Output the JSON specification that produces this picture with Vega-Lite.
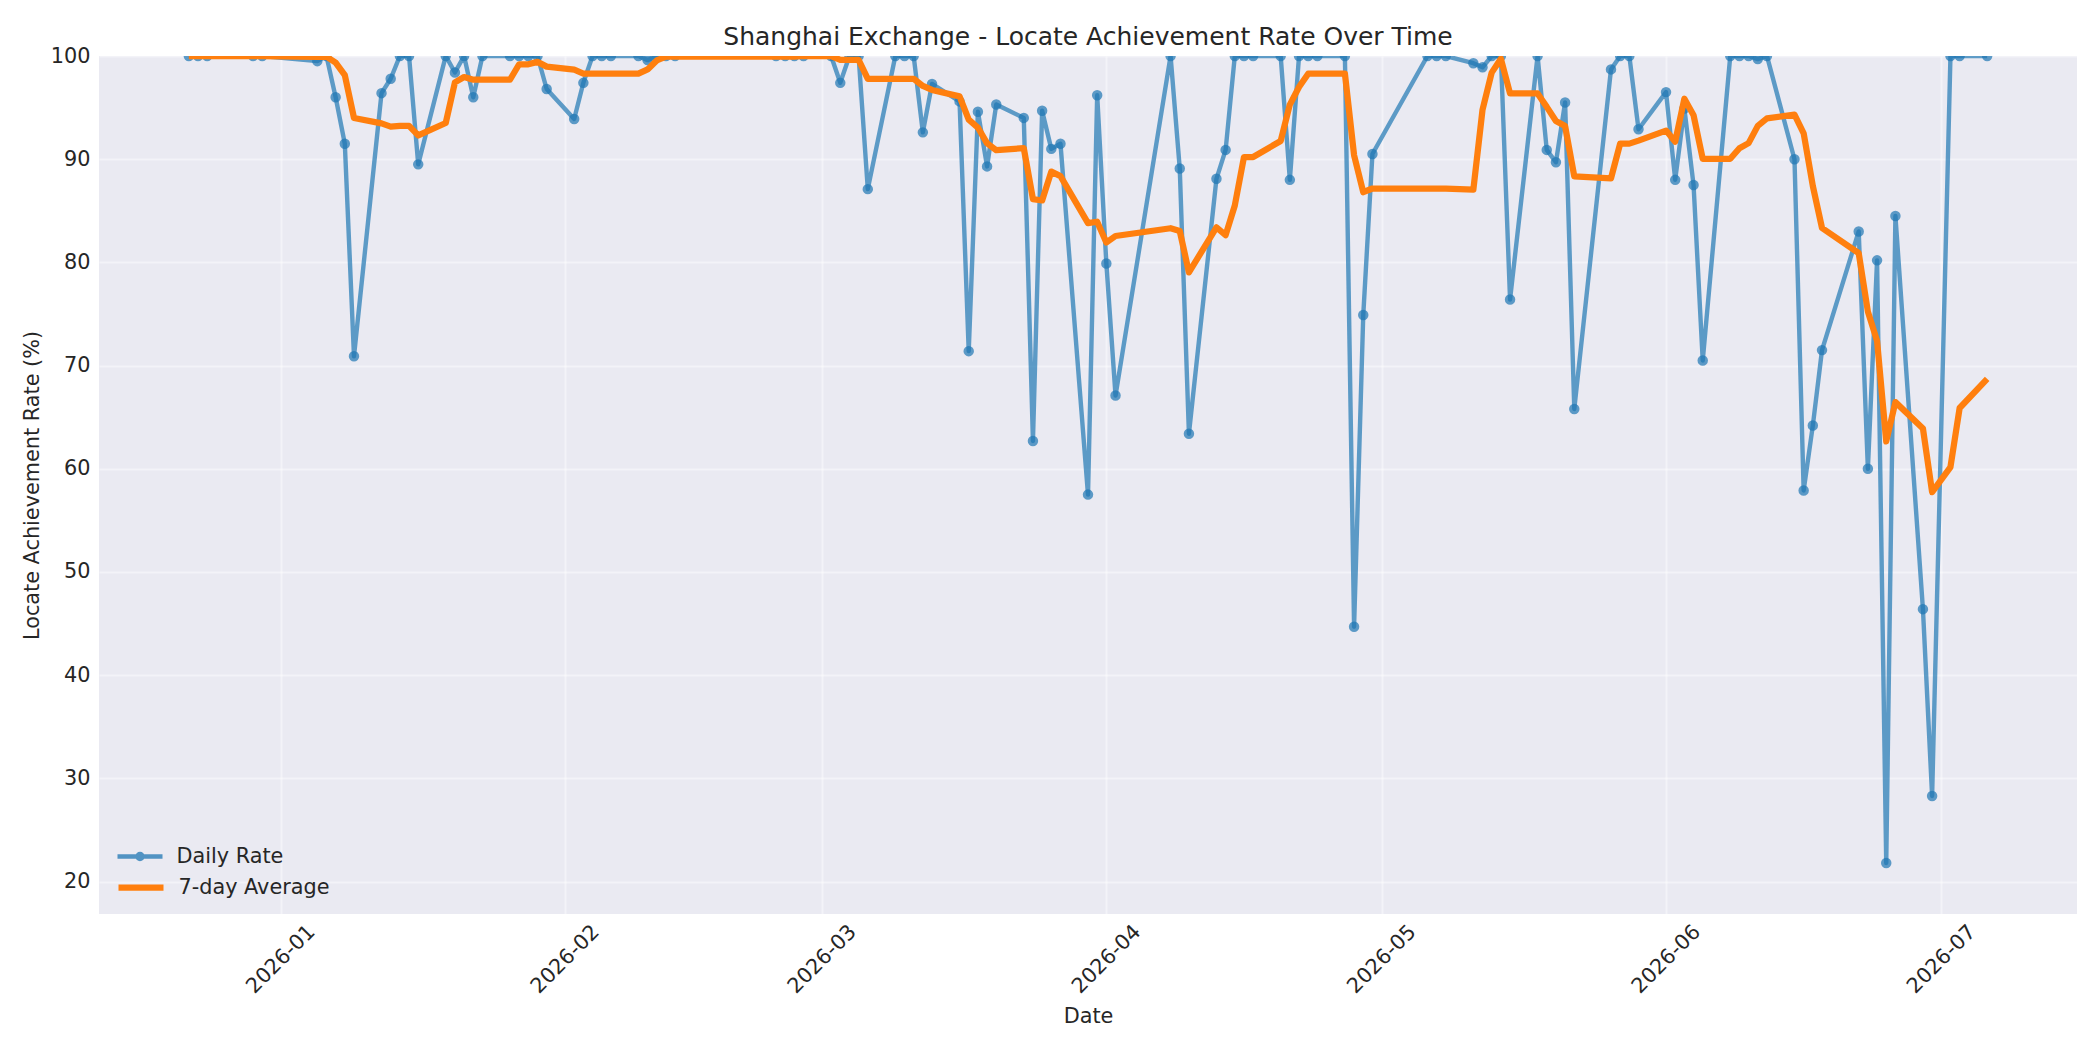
{
  "$schema": "https://vega.github.io/schema/vega-lite/v6.json",
  "width": 1978,
  "height": 858,
  "autosize": {"type": "none"},
  "padding": {"left": 99, "top": 56, "right": 23, "bottom": 136},
  "background": "white",
  "title": {
    "text": "Shanghai Exchange - Locate Achievement Rate Over Time",
    "fontSize": 25,
    "font": "DejaVu Sans",
    "fontWeight": "normal",
    "color": "#262626",
    "anchor": "middle",
    "frame": "group",
    "baseline": "alphabetic",
    "offset": 13,
    "dy": 38
  },
  "data": {
    "values": [
      {"date": "2025-12-22", "rate": 100, "avg": 100},
      {"date": "2025-12-23", "rate": 100, "avg": 100},
      {"date": "2025-12-24", "rate": 100, "avg": 100},
      {"date": "2025-12-29", "rate": 100, "avg": 100},
      {"date": "2025-12-30", "rate": 100, "avg": 100},
      {"date": "2026-01-05", "rate": 99.5, "avg": 99.92},
      {"date": "2026-01-06", "rate": 100, "avg": 99.93},
      {"date": "2026-01-07", "rate": 96.0, "avg": 99.36},
      {"date": "2026-01-08", "rate": 91.5, "avg": 98.14},
      {"date": "2026-01-09", "rate": 70.9, "avg": 93.99},
      {"date": "2026-01-12", "rate": 96.4, "avg": 93.47},
      {"date": "2026-01-13", "rate": 97.8, "avg": 93.16},
      {"date": "2026-01-14", "rate": 100, "avg": 93.23},
      {"date": "2026-01-15", "rate": 100, "avg": 93.23},
      {"date": "2026-01-16", "rate": 89.5, "avg": 92.30},
      {"date": "2026-01-19", "rate": 100, "avg": 93.51},
      {"date": "2026-01-20", "rate": 98.4, "avg": 97.44},
      {"date": "2026-01-21", "rate": 100, "avg": 97.96},
      {"date": "2026-01-22", "rate": 96.0, "avg": 97.70},
      {"date": "2026-01-23", "rate": 100, "avg": 97.70},
      {"date": "2026-01-26", "rate": 100, "avg": 97.70},
      {"date": "2026-01-27", "rate": 100, "avg": 99.20},
      {"date": "2026-01-28", "rate": 100, "avg": 99.20},
      {"date": "2026-01-29", "rate": 100, "avg": 99.43},
      {"date": "2026-01-30", "rate": 96.8, "avg": 98.97},
      {"date": "2026-02-02", "rate": 93.9, "avg": 98.67},
      {"date": "2026-02-03", "rate": 97.4, "avg": 98.30},
      {"date": "2026-02-04", "rate": 100, "avg": 98.30},
      {"date": "2026-02-05", "rate": 100, "avg": 98.30},
      {"date": "2026-02-06", "rate": 100, "avg": 98.30},
      {"date": "2026-02-09", "rate": 100, "avg": 98.30},
      {"date": "2026-02-10", "rate": 99.6, "avg": 98.70},
      {"date": "2026-02-11", "rate": 100, "avg": 99.57},
      {"date": "2026-02-12", "rate": 100, "avg": 99.94},
      {"date": "2026-02-13", "rate": 100, "avg": 99.94},
      {"date": "2026-02-24", "rate": 100, "avg": 99.94},
      {"date": "2026-02-25", "rate": 100, "avg": 99.94},
      {"date": "2026-02-26", "rate": 100, "avg": 99.94},
      {"date": "2026-02-27", "rate": 100, "avg": 100},
      {"date": "2026-03-02", "rate": 100, "avg": 100},
      {"date": "2026-03-03", "rate": 97.4, "avg": 99.63},
      {"date": "2026-03-04", "rate": 100, "avg": 99.63},
      {"date": "2026-03-05", "rate": 100, "avg": 99.63},
      {"date": "2026-03-06", "rate": 87.1, "avg": 97.79},
      {"date": "2026-03-09", "rate": 100, "avg": 97.79},
      {"date": "2026-03-10", "rate": 100, "avg": 97.79},
      {"date": "2026-03-11", "rate": 100, "avg": 97.79},
      {"date": "2026-03-12", "rate": 92.6, "avg": 97.10},
      {"date": "2026-03-13", "rate": 97.3, "avg": 96.71},
      {"date": "2026-03-16", "rate": 95.6, "avg": 96.09},
      {"date": "2026-03-17", "rate": 71.4, "avg": 93.84},
      {"date": "2026-03-18", "rate": 94.6, "avg": 93.07},
      {"date": "2026-03-19", "rate": 89.3, "avg": 91.54},
      {"date": "2026-03-20", "rate": 95.3, "avg": 90.87},
      {"date": "2026-03-23", "rate": 94.0, "avg": 91.07},
      {"date": "2026-03-24", "rate": 62.7, "avg": 86.13},
      {"date": "2026-03-25", "rate": 94.7, "avg": 86.00},
      {"date": "2026-03-26", "rate": 91.0, "avg": 88.80},
      {"date": "2026-03-27", "rate": 91.5, "avg": 88.36},
      {"date": "2026-03-30", "rate": 57.5, "avg": 83.81},
      {"date": "2026-03-31", "rate": 96.2, "avg": 83.94},
      {"date": "2026-04-01", "rate": 79.9, "avg": 81.93},
      {"date": "2026-04-02", "rate": 67.1, "avg": 82.56},
      {"date": "2026-04-08", "rate": 100, "avg": 83.31},
      {"date": "2026-04-09", "rate": 89.1, "avg": 83.04},
      {"date": "2026-04-10", "rate": 63.4, "avg": 79.03},
      {"date": "2026-04-13", "rate": 88.1, "avg": 83.40},
      {"date": "2026-04-14", "rate": 90.9, "avg": 82.64},
      {"date": "2026-04-15", "rate": 100, "avg": 85.51},
      {"date": "2026-04-16", "rate": 100, "avg": 90.21},
      {"date": "2026-04-17", "rate": 100, "avg": 90.21},
      {"date": "2026-04-20", "rate": 100, "avg": 91.77},
      {"date": "2026-04-21", "rate": 88.0, "avg": 95.29},
      {"date": "2026-04-22", "rate": 100, "avg": 96.99},
      {"date": "2026-04-23", "rate": 100, "avg": 98.29},
      {"date": "2026-04-24", "rate": 100, "avg": 98.29},
      {"date": "2026-04-27", "rate": 100, "avg": 98.29},
      {"date": "2026-04-28", "rate": 44.7, "avg": 90.39},
      {"date": "2026-04-29", "rate": 74.9, "avg": 86.80},
      {"date": "2026-04-30", "rate": 90.5, "avg": 87.16},
      {"date": "2026-05-06", "rate": 100, "avg": 87.16},
      {"date": "2026-05-07", "rate": 100, "avg": 87.16},
      {"date": "2026-05-08", "rate": 100, "avg": 87.16},
      {"date": "2026-05-11", "rate": 99.3, "avg": 87.06},
      {"date": "2026-05-12", "rate": 98.9, "avg": 94.80},
      {"date": "2026-05-13", "rate": 100, "avg": 98.39},
      {"date": "2026-05-14", "rate": 100, "avg": 99.74},
      {"date": "2026-05-15", "rate": 76.4, "avg": 96.37},
      {"date": "2026-05-18", "rate": 100, "avg": 96.37},
      {"date": "2026-05-19", "rate": 90.9, "avg": 95.07},
      {"date": "2026-05-20", "rate": 89.7, "avg": 93.70},
      {"date": "2026-05-21", "rate": 95.5, "avg": 93.21},
      {"date": "2026-05-22", "rate": 65.8, "avg": 88.33},
      {"date": "2026-05-26", "rate": 98.7, "avg": 88.14},
      {"date": "2026-05-27", "rate": 100, "avg": 91.51},
      {"date": "2026-05-28", "rate": 100, "avg": 91.51},
      {"date": "2026-05-29", "rate": 92.9, "avg": 91.80},
      {"date": "2026-06-01", "rate": 96.5, "avg": 92.77},
      {"date": "2026-06-02", "rate": 88.0, "avg": 91.70},
      {"date": "2026-06-03", "rate": 94.9, "avg": 95.86},
      {"date": "2026-06-04", "rate": 87.5, "avg": 94.26},
      {"date": "2026-06-05", "rate": 70.5, "avg": 90.04},
      {"date": "2026-06-08", "rate": 100, "avg": 90.04},
      {"date": "2026-06-09", "rate": 100, "avg": 91.06},
      {"date": "2026-06-10", "rate": 100, "avg": 91.56},
      {"date": "2026-06-11", "rate": 99.7, "avg": 93.23},
      {"date": "2026-06-12", "rate": 100, "avg": 93.96},
      {"date": "2026-06-15", "rate": 90.0, "avg": 94.31},
      {"date": "2026-06-16", "rate": 57.9, "avg": 92.51},
      {"date": "2026-06-17", "rate": 64.2, "avg": 87.40},
      {"date": "2026-06-18", "rate": 71.5, "avg": 83.33},
      {"date": "2026-06-22", "rate": 83.0, "avg": 80.90},
      {"date": "2026-06-23", "rate": 60.0, "avg": 75.23},
      {"date": "2026-06-24", "rate": 80.2, "avg": 72.40},
      {"date": "2026-06-25", "rate": 21.8, "avg": 62.66},
      {"date": "2026-06-26", "rate": 84.5, "avg": 66.46},
      {"date": "2026-06-29", "rate": 46.4, "avg": 63.91},
      {"date": "2026-06-30", "rate": 28.3, "avg": 57.74},
      {"date": "2026-07-02", "rate": 100, "avg": 60.17},
      {"date": "2026-07-03", "rate": 100, "avg": 65.89},
      {"date": "2026-07-06", "rate": 100, "avg": 68.71}
    ]
  },
  "encoding": {
    "x": {
      "field": "date",
      "type": "temporal",
      "title": "Date",
      "scale": {
        "type": "utc",
        "domain": [
          {"year": 2025, "month": 12, "date": 12, "hours": 5, "utc": true},
          {"year": 2026, "month": 7, "date": 15, "hours": 19, "utc": true}
        ]
      },
      "axis": {
        "values": [
          {"year": 2026, "month": 1, "date": 1, "utc": true},
          {"year": 2026, "month": 2, "date": 1, "utc": true},
          {"year": 2026, "month": 3, "date": 1, "utc": true},
          {"year": 2026, "month": 4, "date": 1, "utc": true},
          {"year": 2026, "month": 5, "date": 1, "utc": true},
          {"year": 2026, "month": 6, "date": 1, "utc": true},
          {"year": 2026, "month": 7, "date": 1, "utc": true}
        ],
        "labelExpr": "utcFormat(datum.value, '%Y-%m')",
        "labelAngle": -45,
        "labelAlign": "center",
        "labelBaseline": "middle",
        "labelPadding": 45,
        "titleX": 989,
        "titleY": 108,
        "titleAlign": "center",
        "titleBaseline": "alphabetic"
      }
    }
  },
  "layer": [
    {
      "mark": {"type": "line", "strokeWidth": 4.4, "opacity": 0.7, "strokeJoin": "round", "clip": true},
      "encoding": {
        "y": {
          "field": "rate",
          "type": "quantitative",
          "title": "Locate Achievement Rate (%)",
          "scale": {"domain": [16.86, 100], "nice": false, "zero": false},
          "axis": {
            "values": [20, 30, 40, 50, 60, 70, 80, 90, 100],
            "labelPadding": 9,
            "labelBaseline": "middle",
            "titleX": -67,
            "titleY": 429,
            "titleAngle": -90,
            "titleAlign": "center",
            "titleBaseline": "middle"
          }
        },
        "color": {
          "datum": "Daily Rate",
          "scale": {"domain": ["Daily Rate"], "range": ["#1f77b4"]},
          "legend": {
            "title": null,
            "orient": "none",
            "legendX": 23.5,
            "legendY": 783,
            "padding": 0,
            "symbolSize": 900,
            "symbolType": "M-1.5,0L1.5,0M0.17,0A0.17,0.17,0,1,1,-0.17,0A0.17,0.17,0,1,1,0.17,0",
            "symbolStrokeWidth": 4.4,
            "symbolOpacity": 0.75,
            "labelOffset": 19,
            "labelFontSize": 20.8,
            "labelFont": "DejaVu Sans",
            "labelColor": "#262626"
          }
        }
      }
    },
    {
      "mark": {"type": "point", "filled": true, "size": 70, "opacity": 0.7, "stroke": "#1f77b4", "strokeWidth": 2.1, "clip": true},
      "encoding": {
        "y": {"field": "rate", "type": "quantitative"},
        "fill": {"value": "#1f77b4"}
      }
    },
    {
      "mark": {"type": "line", "strokeWidth": 6.25, "strokeJoin": "round", "clip": true},
      "encoding": {
        "y": {"field": "avg", "type": "quantitative"},
        "stroke": {
          "datum": "7-day Average",
          "scale": {"domain": ["7-day Average"], "range": ["#ff7f0e"]},
          "legend": {
            "title": null,
            "orient": "none",
            "legendX": 23.5,
            "legendY": 813,
            "padding": 0,
            "symbolSize": 900,
            "symbolType": "M-1.5,0L1.5,0",
            "symbolStrokeWidth": 6.25,
            "symbolOpacity": 1,
            "labelOffset": 19,
            "labelFontSize": 20.8,
            "labelFont": "DejaVu Sans",
            "labelColor": "#262626"
          }
        }
      }
    }
  ],
  "config": {
    "font": "DejaVu Sans",
    "view": {"fill": "#EAEAF2", "stroke": null},
    "axis": {
      "domain": false,
      "ticks": false,
      "tickSize": 0,
      "grid": true,
      "gridColor": "#ffffff",
      "gridOpacity": 0.45,
      "gridWidth": 2,
      "labelFont": "DejaVu Sans",
      "labelFontSize": 20.8,
      "labelColor": "#262626",
      "titleFont": "DejaVu Sans",
      "titleFontSize": 20.8,
      "titleFontWeight": "normal",
      "titleColor": "#262626"
    }
  }
}
